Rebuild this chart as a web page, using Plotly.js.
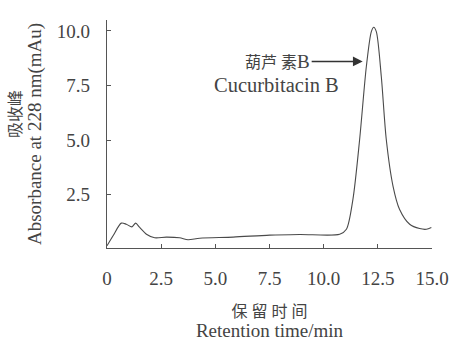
<!DOCTYPE html>
<html>
<head>
<meta charset="utf-8">
<script src="https://cdn.plot.ly/plotly-3.0.1.min.js"></script>
<style>html,body{margin:0;padding:0;background:#fff;}#chart{width:450px;height:341px;}</style>
</head>
<body>
<div id="chart"></div>
<script>
const retentionTime = [0, 0.28, 0.66, 0.89, 1.15, 1.32, 1.51, 1.82, 2.2, 2.74, 3.35, 3.74, 4.28, 5.82, 7.51, 8.89, 10.74, 11.05, 11.35, 11.66, 11.97, 12.2, 12.31, 12.43, 12.66, 12.89, 13.2, 13.5, 13.97, 14.43, 14.74, 14.97];
const absorbance = [0.15, 0.61, 1.19, 1.14, 1.02, 1.19, 0.99, 0.68, 0.52, 0.55, 0.52, 0.43, 0.5, 0.55, 0.64, 0.67, 0.68, 0.91, 2.28, 5.02, 8.37, 9.97, 10.17, 9.97, 7.91, 5.02, 2.89, 1.83, 1.14, 0.94, 0.91, 0.99];
const xTickVals = [0, 2.5, 5, 7.5, 10, 12.5, 15];
const xTickText = ['0', '2.5', '5.0', '7.5', '10.0', '12.5', '15.0'];
const yTickVals = [2.5, 5, 7.5, 10];
const yTickText = ['2.5', '5.0', '7.5', '10.0'];

const fontFam = '"Liberation Serif", "Noto Sans CJK SC", serif';
const txtColor = '#444';
const zh = s => '<span style="font-size:16px">' + s + '</span>';
const en = s => '<span style="font-size:19px">' + s + '</span>';
const pad = '&nbsp;'.repeat(10);

const trace = {
  x: retentionTime, y: absorbance, type: 'scatter', mode: 'lines',
  line: {color: '#4a4a4a', width: 1.1, shape: 'spline', smoothing: 0.8},
  hoverinfo: 'skip'
};

const layout = {
  width: 450, height: 341,
  margin: {l: 107, r: 18, t: 20, b: 93},
  paper_bgcolor: '#fff', plot_bgcolor: '#fff',
  showlegend: false,
  font: {family: fontFam, size: 19, color: txtColor},
  xaxis: {
    range: [0, 15], showgrid: false, zeroline: false,
    showline: true, linecolor: '#555', linewidth: 1.2,
    ticks: 'inside', ticklen: 4, tickcolor: '#555',
    tickvals: xTickVals, ticktext: xTickText,
    ticklabelstandoff: 13,
    title: {text: zh('保 留 时 间') + '<br>' + en('Retention time/min'), font: {size: 15.5, color: txtColor}, standoff: 19}
  },
  yaxis: {
    range: [0.05, 10.5], showgrid: false, zeroline: false,
    showline: true, linecolor: '#555', linewidth: 1.2,
    ticks: 'inside', ticklen: 4, tickcolor: '#555',
    tickvals: yTickVals, ticktext: yTickText,
    ticklabelstandoff: 12,
    title: {text: zh(pad + '吸收峰') + '<br>' + en('Absorbance at 228 nm(mAu)'), font: {size: 15.5, color: txtColor}, standoff: 11}
  },
  annotations: [
    {x: 11.8, y: 8.6, xref: 'x', yref: 'y', text: zh('葫芦 素') + en('B'), showarrow: true,
     ax: -85, ay: 0, arrowhead: 2, arrowsize: 1.3, arrowwidth: 1.5, arrowcolor: '#333',
     font: {size: 19, color: txtColor}},
    {x: 7.82, y: 7.53, xref: 'x', yref: 'y', text: 'Cucurbitacin B', showarrow: false,
     font: {size: 20.5, color: txtColor}}
  ]
};

Plotly.newPlot('chart', [trace], layout, {displayModeBar: false, staticPlot: true});
</script>
</body>
</html>
